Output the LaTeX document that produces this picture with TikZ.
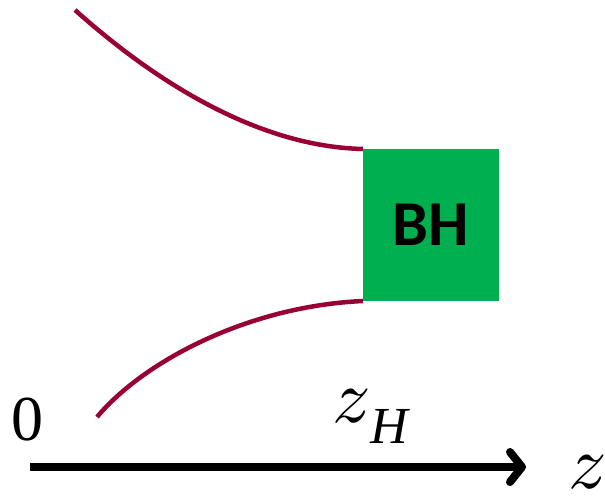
\documentclass[tikz,border=0pt]{standalone}
\usepackage{fontspec}
\setmainfont{Liberation Serif}
\newfontfamily\axisfont{Liberation Serif}
\newfontfamily\bhfont{Carlito}
\usetikzlibrary{positioning,arrows.meta}
\definecolor{horizonred}{HTML}{990033}
\definecolor{bhgreen}{HTML}{00B050}
\newcommand{\bigz}{{\fontsize{10}{12}\selectfont\scalebox{7.6}{$z$}}}

\begin{document}
\begin{tikzpicture}[x=1pt, y=-1pt, every node/.style={inner sep=0pt, outer sep=0pt},
    lbl/.style={font=\axisfont\fontsize{64}{70}\selectfont},
    wall/.style={horizonred, line width=4.5pt}]
  \useasboundingbox (0,0) rectangle (605,500);
  % black hole box
  \node[fill=bhgreen, minimum width=136pt, minimum height=152pt, anchor=north west,
        font=\bhfont\bfseries\fontsize{64}{66}\selectfont] (bh) at (363,149) {BH};
  % the two curves running into the box
  \draw[wall] (75,10) .. controls (170,95) and (270,147) .. (bh.north west);
  \draw[wall] (97,417) .. controls (145,360) and (250,306) .. (bh.south west);
  % axis
  \coordinate (ax0) at (30,467);
  \coordinate (ax1) at (526,467);
  \draw[line width=8pt, -{Straight Barb[round, length=12pt, width=30pt]}] (ax0) -- (ax1);
  % labels
  \node[lbl, anchor=base west] (zero) at (12,440) {0};
  \node[lbl, anchor=base west] (zh) at (332,422)
      {\bigz\raisebox{-21pt}{\fontsize{52}{54}\selectfont\itshape H}};
  \node[lbl, anchor=base west] (zax) at (568,488) {\bigz};
\end{tikzpicture}
\end{document}
